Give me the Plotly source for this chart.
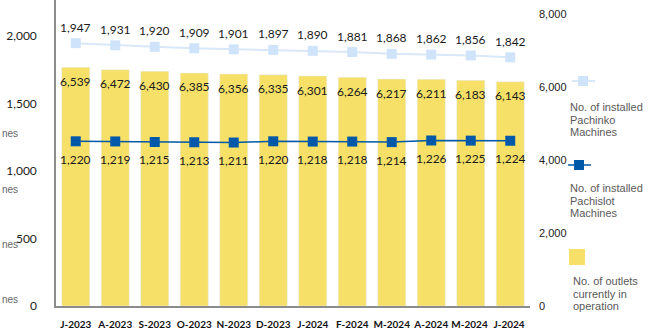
import plotly.graph_objects as go

months = ["J-2023", "A-2023", "S-2023", "O-2023", "N-2023", "D-2023",
          "J-2024", "F-2024", "M-2024", "A-2024", "M-2024 ", "J-2024 "]
pachinko = [1947, 1931, 1920, 1909, 1901, 1897, 1890, 1881, 1868, 1862, 1856, 1842]
pachislot = [1220, 1219, 1215, 1213, 1211, 1220, 1218, 1218, 1214, 1226, 1225, 1224]
outlets = [6539, 6472, 6430, 6385, 6356, 6335, 6301, 6264, 6217, 6211, 6183, 6143]

left_ticks = [0, 500, 1000, 1500, 2000]
right_ticks = [0, 2000, 4000, 6000, 8000]

W, H = 650, 333
L, R, T, B = 56, 120, 0, 27
pw, ph = W - L - R, H - T - B

YELLOW = "#F6E067"
LBLUE = "#CFE4FA"
LBLUE_LINE = "#D8E8F8"
DBLUE = "#0058A8"
LABEL_FONT = dict(family="Lato, Calibri, sans-serif", size=12, color="#1a1a1a")

fig = go.Figure()
# bars on the primary axis (right side), lines on the overlaying left axis so they draw on top
fig.add_trace(go.Bar(x=months, y=outlets, yaxis="y", marker_color=YELLOW,
                     width=0.71, hoverinfo="skip"))
fig.add_trace(go.Scatter(x=months, y=pachinko, mode="lines+markers", yaxis="y2",
                         line=dict(color=LBLUE_LINE, width=2),
                         marker=dict(symbol="square", size=10, color=LBLUE)))
fig.add_trace(go.Scatter(x=months, y=pachislot, mode="lines+markers", yaxis="y2",
                         line=dict(color=DBLUE, width=1.5),
                         marker=dict(symbol="square", size=10, color=DBLUE)))

ann = []
for m, v in zip(months, pachinko):
    ann.append(dict(x=m, y=v, xref="x", yref="y2", text=f"{v:,}", showarrow=False,
                    yshift=16, font=LABEL_FONT))
for m, v in zip(months, pachislot):
    ann.append(dict(x=m, y=v, xref="x", yref="y2", text=f"{v:,}", showarrow=False,
                    yshift=-18, font=LABEL_FONT))
for m, v in zip(months, outlets):
    ann.append(dict(x=m, y=v, xref="x", yref="y", text=f"{v:,}", showarrow=False,
                    yshift=-14, font=LABEL_FONT))

def px(x):
    return (x - L) / pw

def py(y):
    return (H - B - y) / ph

# cut-off left labels (only the visible tail is shown in the reference)
for yy in [133, 189, 244, 299]:
    ann.append(dict(x=px(1), y=py(yy), xref="paper", yref="paper", text="nes",
                    xanchor="left", yanchor="middle", showarrow=False, borderpad=0,
                    font=dict(family="Liberation Sans, Arial", size=10, color="#666666")))

legend_texts = [
    (568, 107, ["No. of installed", "Pachinko", "Machines"]),
    (568, 188, ["No. of installed", "Pachislot", "Machines"]),
    (571, 281, ["No. of outlets", "currently in", "operation"]),
]
for x0, y0, lines in legend_texts:
    for i, t in enumerate(lines):
        ann.append(dict(x=px(x0), y=py(y0 + i * 12.7), xref="paper", yref="paper", text=t,
                        xanchor="left", yanchor="middle", showarrow=False,
                        font=dict(family="Liberation Sans, Arial", size=11, color="#595959")))

shapes = [
    dict(type="line", xref="paper", yref="paper", x0=px(572), x1=px(595), y0=py(81), y1=py(81),
         line=dict(color=LBLUE_LINE, width=2)),
    dict(type="rect", xref="paper", yref="paper", x0=px(578), x1=px(588), y0=py(76), y1=py(86),
         fillcolor=LBLUE, line=dict(width=0)),
    dict(type="line", xref="paper", yref="paper", x0=px(568), x1=px(591), y0=py(165), y1=py(165),
         line=dict(color=DBLUE, width=1.5)),
    dict(type="rect", xref="paper", yref="paper", x0=px(574), x1=px(584), y0=py(160), y1=py(170),
         fillcolor=DBLUE, line=dict(width=0)),
    dict(type="rect", xref="paper", yref="paper", x0=px(569), x1=px(585), y0=py(249), y1=py(265),
         fillcolor=YELLOW, line=dict(width=0)),
]

fig.update_layout(
    width=W, height=H,
    margin=dict(l=L, r=R, t=T, b=B, pad=0),
    paper_bgcolor="white", plot_bgcolor="white",
    showlegend=False,
    annotations=ann,
    shapes=shapes,
    xaxis=dict(type="category", tickfont=dict(family="Lato, Calibri, sans-serif", size=10,
                                              color="#111111", weight="bold"),
               showline=True, linecolor="#8c8c8c", linewidth=1.5, showgrid=False,
               ticks="", ticklabelstandoff=8, range=[-0.5, 11.5], tickangle=0,
               automargin=False),
    yaxis=dict(range=[0, 8383.6], side="right", tickvals=right_ticks,
               ticktext=[f"{v:,}" for v in right_ticks], showgrid=False, zeroline=False,
               showline=False, automargin=False,
               tickfont=dict(family="Liberation Sans, Arial", size=11, color="#222222"),
               ticklabelstandoff=8, ticks=""),
    yaxis2=dict(range=[0, 2266.7], overlaying="y", side="left", tickvals=left_ticks,
                ticktext=[f"{v:,}" for v in left_ticks], automargin=False,
                showgrid=False, zeroline=False, showline=True, linecolor="#8c8c8c", linewidth=1.5,
                tickfont=dict(family="Lato, Calibri, sans-serif", size=12, color="#222222"),
                ticklabelstandoff=15, ticks=""),
)

fig.write_html("out.html")
